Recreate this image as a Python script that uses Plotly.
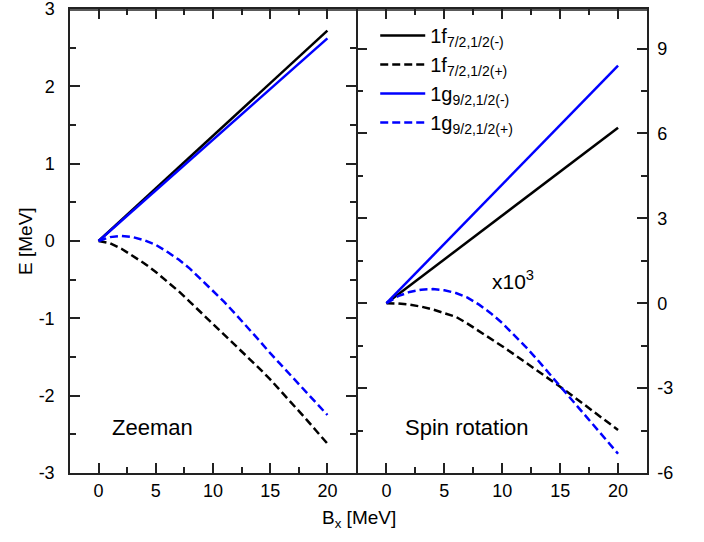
import plotly.graph_objects as go

# ---------------- data ----------------
bx = list(range(0, 21))

# Zeeman panel (E in MeV)
zee_f_minus = [0.0, 0.136, 0.272, 0.408, 0.544, 0.68, 0.816, 0.952, 1.088, 1.224, 1.36,
               1.496, 1.632, 1.768, 1.904, 2.04, 2.176, 2.312, 2.448, 2.584, 2.72]
zee_f_plus = [0.0, -0.03, -0.10, -0.19, -0.29, -0.40, -0.52, -0.65, -0.79, -0.93, -1.07,
              -1.21, -1.35, -1.50, -1.64, -1.79, -1.95, -2.11, -2.28, -2.45, -2.62]
zee_g_minus = [0.0, 0.131, 0.262, 0.393, 0.524, 0.655, 0.786, 0.917, 1.048, 1.179, 1.31,
               1.441, 1.572, 1.703, 1.834, 1.965, 2.096, 2.227, 2.358, 2.489, 2.62]
zee_g_plus = [0.0, 0.05, 0.065, 0.05, 0.01, -0.05, -0.14, -0.24, -0.36, -0.50, -0.64,
              -0.79, -0.95, -1.11, -1.28, -1.45, -1.61, -1.77, -1.93, -2.09, -2.25]

# Spin rotation panel (x10^3)
spin_f_minus = [0.0, 0.31, 0.62, 0.93, 1.24, 1.55, 1.86, 2.17, 2.48, 2.79, 3.10,
                3.41, 3.72, 4.03, 4.34, 4.65, 4.96, 5.27, 5.58, 5.89, 6.20]
spin_f_plus = [0.0, -0.01, -0.05, -0.12, -0.22, -0.34, -0.48, -0.72, -0.98, -1.25, -1.52,
               -1.80, -2.08, -2.36, -2.64, -2.95, -3.25, -3.55, -3.85, -4.17, -4.48]
spin_g_minus = [0.0, 0.42, 0.84, 1.26, 1.68, 2.10, 2.52, 2.94, 3.36, 3.78, 4.20,
                4.62, 5.04, 5.46, 5.88, 6.30, 6.72, 7.14, 7.56, 7.98, 8.40]
spin_g_plus = [0.0, 0.25, 0.40, 0.48, 0.50, 0.46, 0.36, 0.20, -0.05, -0.35, -0.70,
               -1.10, -1.53, -1.98, -2.45, -2.92, -3.40, -3.88, -4.36, -4.84, -5.32]

names = ["1f<sub>7/2,1/2(-)</sub>", "1f<sub>7/2,1/2(+)</sub>",
         "1g<sub>9/2,1/2(-)</sub>", "1g<sub>9/2,1/2(+)</sub>"]

x_ticks = [0, 5, 10, 15, 20]
x_tick_labels = ["0", "5", "10", "15", "20"]
e_ticks = [-3, -2, -1, 0, 1, 2, 3]
e_tick_labels = ["-3", "-2", "-1", "0", "1", "2", "3"]
spin_ticks = [-6, -3, 0, 3, 6, 9]
spin_tick_labels = ["-6", "-3", "0", "3", "6", "9"]

FONT = "Liberation Sans, Arial, sans-serif"
BLUE = "#0000FF"
BLACK = "#000000"
DASH = "8px,4px"
LW = 2.5

fig = go.Figure()

styles = [(BLACK, "solid"), (BLACK, DASH), (BLUE, "solid"), (BLUE, DASH)]
zee = [zee_f_minus, zee_f_plus, zee_g_minus, zee_g_plus]
spin = [spin_f_minus, spin_f_plus, spin_g_minus, spin_g_plus]

for (c, d), ys, nm in zip(styles, zee, names):
    fig.add_trace(go.Scatter(x=bx, y=ys, mode="lines", name=nm, showlegend=False,
                             line=dict(color=c, width=LW, dash=d), xaxis="x", yaxis="y"))
for (c, d), ys, nm in zip(styles, spin, names):
    fig.add_trace(go.Scatter(x=bx, y=ys, mode="lines", name=nm, showlegend=True,
                             line=dict(color=c, width=LW, dash=d), xaxis="x2", yaxis="y2"))

axis_common = dict(showgrid=False, zeroline=False, showline=True, linewidth=1.5,
                   linecolor="#222", ticks="inside", ticklen=10, tickwidth=1.5,
                   tickcolor="#222", mirror="ticks", automargin=False,
                   ticklabeloverflow="allow",
                   tickfont=dict(family=FONT, size=18, color="black"))

def minor(dt):
    return dict(dtick=dt, tick0=0, ticklen=6, ticks="inside", tickwidth=1.5,
                tickcolor="#222", showgrid=False)

PW = 577.0
B1 = 286.0 / PW
B2 = 287.5 / PW

fig.update_layout(
    width=704, height=542,
    margin=dict(l=70, r=57, t=9, b=69, autoexpand=False),
    paper_bgcolor="white", plot_bgcolor="white",
    font=dict(family=FONT, size=18, color="black"),
    xaxis=dict(domain=[0, B1], range=[-2.5, 22.5], tickvals=x_ticks, ticktext=x_tick_labels,
               anchor="y", minor=minor(2.5), ticklabelstandoff=1, **axis_common),
    yaxis=dict(domain=[0, 1], range=[-3, 3], tickvals=e_ticks, ticktext=e_tick_labels,
               anchor="x", minor=minor(0.5), ticklabelstandoff=10, **axis_common),
    xaxis2=dict(domain=[B2, 1], range=[-2.5, 22.5], tickvals=x_ticks, ticktext=x_tick_labels,
                anchor="y2", minor=minor(2.5), ticklabelstandoff=1, **axis_common),
    yaxis2=dict(domain=[0, 1], range=[-6, 10.4], tickvals=spin_ticks, ticktext=spin_tick_labels,
                anchor="x2", side="right", minor=minor(1.5), ticklabelstandoff=5,
                **axis_common),
    legend=dict(x=0.529, y=0.985, xanchor="left", yanchor="top", itemwidth=45,
                bgcolor="rgba(0,0,0,0)", font=dict(family=FONT, size=20),
                tracegroupgap=0),
    showlegend=True,
)

# top frame edge of both panels
fig.add_shape(type="line", xref="paper", yref="paper", x0=0, x1=1, y0=0.998, y1=0.998,
              line=dict(color="#222", width=1.5), layer="above")

fig.add_annotation(text="E [MeV]", xref="paper", yref="paper", x=-0.078, y=0.5,
                   xanchor="center", yanchor="middle", textangle=-90, showarrow=False,
                   font=dict(family=FONT, size=19))
fig.add_annotation(text="B<sub>x</sub> [MeV]", xref="paper", yref="paper", x=0.5, y=-0.10,
                   xanchor="center", yanchor="middle", showarrow=False,
                   font=dict(family=FONT, size=19))
fig.add_annotation(text="Zeeman", xref="paper", yref="paper", x=0.069, y=0.0976,
                   xanchor="left", yanchor="middle", showarrow=False,
                   font=dict(family=FONT, size=22))
fig.add_annotation(text="Spin rotation", xref="paper", yref="paper", x=0.5774, y=0.0976,
                   xanchor="left", yanchor="middle", showarrow=False,
                   font=dict(family=FONT, size=22))
fig.add_annotation(text="x10<sup>3</sup>", xref="paper", yref="paper", x=0.728, y=0.4166,
                   xanchor="left", yanchor="middle", showarrow=False,
                   font=dict(family=FONT, size=21))

fig.write_html("out.html", config={"displayModeBar": False},
               post_script="document.body.style.margin='0px';")
